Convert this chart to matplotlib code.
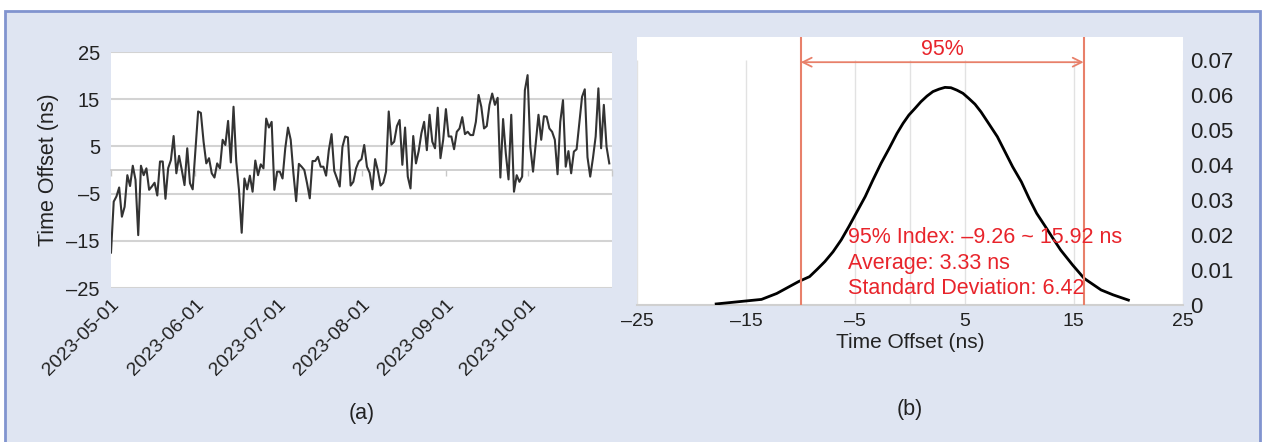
import matplotlib
matplotlib.use("Agg")
import matplotlib.pyplot as plt
from matplotlib.patches import Rectangle
import pandas as pd

plt.rcParams['font.family'] = ['Liberation Sans', 'DejaVu Sans']

# ---------------- data ----------------
offsets = [
    -17.5, -6.7, -5.6, -3.7, -9.9, -7.8, -1.1, -3.4, 0.9, -2.1,
    -13.8, 0.9, -1.1, 0.35, -4.2, -3.5, -2.7, -5.4, 1.8, 1.8,
    -6.1, 0.4, 2.1, 7.2, -0.7, 3.0, 0.0, -3.2, 4.6, -2.8,
    -4.1, 4.2, 12.4, 12.1, 6.0, 1.4, 2.5, -0.7, -1.6, 1.4,
    0.35, 6.4, 5.3, 10.4, 1.6, 13.4, 1.8, -4.2, -13.3, -1.8,
    -4.1, -1.2, -4.6, 2.0, -1.1, 1.2, 0.35, 10.9, 9.0, 10.2,
    -4.2, -0.35, -0.35, -1.8, 4.6, 9.0, 6.4, -0.7, -6.6, 1.3,
    0.7, 0.0, -2.8, -6.0, 1.9, 1.9, 2.8, 0.7, 0.7, -1.2,
    4.2, 7.6, -0.2, -1.8, -3.5, 4.9, 7.1, 6.9, -3.3, -2.5,
    0.35, 1.8, 2.3, 5.3, 0.7, -0.6, -4.1, 2.3, -0.1, -3.3,
    -2.7, -0.35, 12.4, 5.4, 6.0, 9.3, 10.6, 1.1, 9.0, -1.4,
    -3.9, 7.2, 1.4, 4.0, 7.8, 10.2, 4.2, 11.7, 6.0, 4.6,
    13.2, 2.5, 6.4, 12.9, 7.1, 7.1, 4.4, 8.1, 8.8, 11.2,
    7.6, 8.1, 7.4, 7.4, 10.2, 15.9, 13.4, 8.8, 9.3, 13.8,
    16.2, 13.8, 15.3, -1.6, 10.8, 3.5, -2.0, 11.7, -4.6, -1.1,
    -2.5, -1.4, 16.9, 20.1, 4.9, -0.35, 5.6, 11.7, 6.4, 11.4,
    11.3, 8.8, 8.1, 6.4, -0.9, 10.2, 14.8, 0.7, 4.0, -0.7,
    3.9, 4.4, 9.9, 15.5, 17.1, 2.7, -1.4, 2.5, 7.1, 17.3,
    4.6, 13.8, 4.9, 1.4,
]
start_date = "2023-05-01"
month_ticks = ["2023-05-01", "2023-06-01", "2023-07-01", "2023-08-01",
               "2023-09-01", "2023-10-01", "2023-11-01"]
month_labels = ["2023-05-01", "2023-06-01", "2023-07-01", "2023-08-01",
                "2023-09-01", "2023-10-01", ""]
left_yticks = [-25, -15, -5, 5, 15, 25]

curve_x = [-17.75, -13.6, -12.2, -10.2, -9.2, -8.5, -7.8, -7.05, -6.3, -5.6,
           -4.85, -4.1, -3.4, -2.65, -1.9, -1.2, -0.64, -0.1, 0.46, 1.0,
           1.55, 2.1, 2.66, 3.2, 3.75, 4.3, 4.85, 5.4, 5.95, 6.5,
           7.2, 8.0, 8.7, 9.4, 10.2, 10.9, 11.6, 12.4, 13.1, 13.8,
           14.9, 15.95, 17.5, 18.6, 20.0]
curve_y = [0.0003, 0.0016, 0.0033, 0.0067, 0.0081, 0.0102, 0.0124, 0.0152, 0.0186, 0.0224,
           0.0267, 0.0310, 0.0357, 0.0405, 0.0448, 0.0490, 0.0519, 0.0543, 0.0562, 0.0581,
           0.0597, 0.0610, 0.0617, 0.0622, 0.0621, 0.0614, 0.0605, 0.0590, 0.0574, 0.0552,
           0.0519, 0.0481, 0.0438, 0.0395, 0.0352, 0.0305, 0.0262, 0.0224, 0.0190, 0.0157,
           0.0114, 0.0076, 0.0043, 0.0029, 0.0014]
ci_low, ci_high = -10.0, 15.9
right_xticks = [-25, -15, -5, 5, 15, 25]
right_yticks = [0, 0.01, 0.02, 0.03, 0.04, 0.05, 0.06, 0.07]
grid_x = [-25, -15, -5, 0, 5, 15, 25]
stats_lines = ["95% Index: \u20139.26 ~ 15.92 ns", "Average: 3.33 ns", "Standard Deviation: 6.42"]

dates = pd.date_range(start_date, periods=len(offsets), freq="D")

# ---------------- figure ----------------
W, H = 1262, 442
fig = plt.figure(figsize=(W / 100, H / 100), dpi=100, facecolor="white")
bg = "#dfe5f2"
frame = Rectangle((5 / W, -0.05), (1260 - 5) / W, 1 - 11 / H + 0.05,
                  transform=fig.transFigure, facecolor=bg, edgecolor="#8194cf",
                  linewidth=2, zorder=-10)
fig.patches.append(frame)

FS = 14
txt = "#222222"
grid_c = "#d3d3d3"

# ---------------- left panel ----------------
axL = fig.add_axes([111 / W, 1 - 288 / H, (612 - 111) / W, (288 - 52) / H])
axL.set_facecolor("white")
axL.plot(dates, offsets, color="#333333", lw=1.5, zorder=3)
axL.set_ylim(-25, 25)
axL.set_xlim(pd.Timestamp(month_ticks[0]), pd.Timestamp(month_ticks[-1]))
axL.set_yticks(left_yticks)
axL.set_yticklabels([f"{v}".replace("-", "\u2013") for v in left_yticks],
                    fontsize=14.5, color=txt)
axL.yaxis.grid(True, color=grid_c, lw=1.5)
axL.set_axisbelow(True)
for s in axL.spines.values():
    s.set_visible(False)
axL.tick_params(axis="y", length=0, pad=8)
tick_pos = [pd.Timestamp(t) for t in month_ticks]
axL.set_xticks(tick_pos)
axL.set_xticklabels(month_labels, rotation=45, ha="right", va="top",
                    rotation_mode="anchor", fontsize=FS, color=txt)
axL.tick_params(axis="x", length=0, pad=6)
axL.set_ylabel("Time Offset (ns)", fontsize=15.5, color=txt, labelpad=5)

sec = axL.secondary_xaxis(0.5)
sec.set_xticks(tick_pos)
sec.set_xticklabels([])
sec.tick_params(axis="x", direction="out", length=4, color="#c8c8c8", width=1,
                bottom=True, top=False)
for s in sec.spines.values():
    s.set_color("#c8c8c8")
    s.set_linewidth(1.2)

fig.text(362 / W, 1 - 413 / H, "(a)", ha="center", va="center", fontsize=15.5, color=txt)

# ---------------- right panel ----------------
axR = fig.add_axes([637 / W, 1 - 305 / H, (1183 - 637) / W, (305 - 37) / H])
axR.set_facecolor("white")
axR.set_xlim(-25, 25)
axR.set_ylim(0, 0.0766)
axR.vlines(grid_x, 0, 0.07, color="#e2e2e2", lw=1, zorder=1)
axR.plot(curve_x, curve_y, color="black", lw=2, zorder=3)
red_line = "#e8806a"
red_txt = "#e8242b"
axR.axvline(ci_low, color=red_line, lw=1.5, zorder=4)
axR.axvline(ci_high, color=red_line, lw=1.5, zorder=4)
axR.annotate("", xy=(ci_low, 0.0694), xytext=(ci_high, 0.0694),
             arrowprops=dict(arrowstyle="<->", color=red_line, lw=1.3,
                             mutation_scale=16, shrinkA=0, shrinkB=0), zorder=4)
axR.text((ci_low + ci_high) / 2, 0.0731, "95%", ha="center", va="center",
         fontsize=15.5, color=red_txt)
for i, line in enumerate(stats_lines):
    axR.text(-5.7, 0.0193 - i * 0.0073, line, ha="left", va="center",
             fontsize=15.5, color=red_txt, zorder=5)

for k, s in axR.spines.items():
    s.set_visible(k == "bottom")
axR.spines["bottom"].set_color("#d0d0d0")
axR.spines["bottom"].set_linewidth(1.5)
axR.set_xticks(right_xticks)
axR.set_xticklabels([f"{v}".replace("-", "\u2013") for v in right_xticks],
                    fontsize=FS, color=txt)
axR.tick_params(axis="x", length=0, pad=6)
axR.yaxis.tick_right()
axR.set_yticks(right_yticks)
axR.set_yticklabels(["0" if v == 0 else f"{v:.2f}" for v in right_yticks],
                    fontsize=16, color=txt)
axR.tick_params(axis="y", length=0, pad=5)
axR.set_xlabel("Time Offset (ns)", fontsize=15, color=txt, labelpad=2)

fig.text(910 / W, 1 - 410 / H, "(b)", ha="center", va="center", fontsize=15.5, color=txt)

fig.savefig("out.png", dpi=100, facecolor="white")
